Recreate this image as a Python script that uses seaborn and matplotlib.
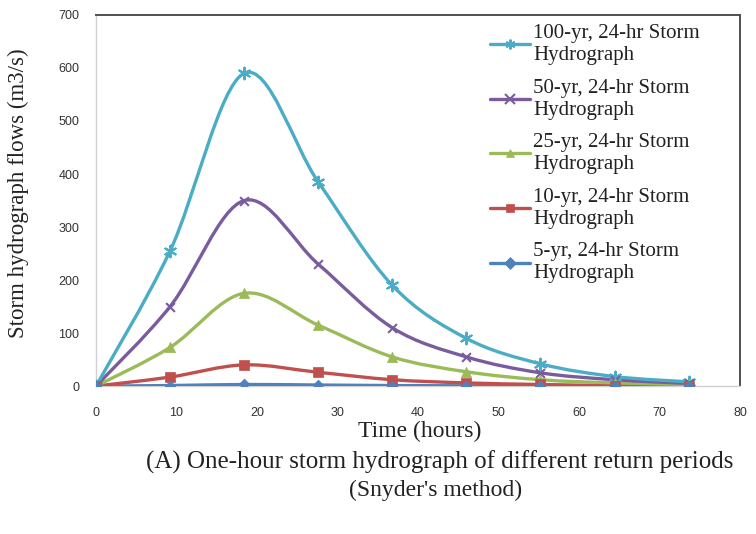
import numpy as np
import pandas as pd
import matplotlib
matplotlib.use("Agg")
import matplotlib.pyplot as plt
from matplotlib.path import Path
from matplotlib.patches import PathPatch
from matplotlib.lines import Line2D
import seaborn as sns

# ---- data ----
time_hours = [0, 9.2, 18.4, 27.6, 36.8, 46.0, 55.2, 64.4, 73.6]
flow_100yr = [0, 255, 590, 385, 190, 90, 42, 18, 8]
flow_50yr = [0, 150, 350, 230, 110, 55, 25, 12, 5]
flow_25yr = [0, 73, 175, 115, 55, 27, 12, 6, 3]
flow_10yr = [0, 17, 40, 26, 12, 6, 3, 1, 0]
flow_5yr = [0, 1, 3, 2, 1, 0.5, 0, 0, 0]
series_names = ["100-yr, 24-hr Storm\nHydrograph", "50-yr, 24-hr Storm\nHydrograph",
                "25-yr, 24-hr Storm\nHydrograph", "10-yr, 24-hr Storm\nHydrograph",
                "5-yr, 24-hr Storm\nHydrograph"]
series_values = [flow_100yr, flow_50yr, flow_25yr, flow_10yr, flow_5yr]
x_ticks = [0, 10, 20, 30, 40, 50, 60, 70, 80]
y_ticks = [0, 100, 200, 300, 400, 500, 600, 700]

colors = ["#4BACC6", "#7A5C9E", "#9BBB59", "#C0504D", "#4F81BD"]
markers = [(6, 2, 0), "x", "^", "s", "D"]
msizes = [70, 40, 55, 55, 30]

rows = []
for name, vals in zip(series_names, series_values):
    for t, v in zip(time_hours, vals):
        rows.append({"time": t, "flow": v, "series": name})
df = pd.DataFrame(rows)

sns.set_theme(style="white")
plt.rcParams["font.family"] = ["Liberation Serif", "DejaVu Serif"]

fig = plt.figure(figsize=(7.56, 5.34), dpi=100)
ax = fig.add_axes([0.127, 0.277, 0.852, 0.695])


def smooth_path(xs, ys):
    # Excel-style smoothed line (Catmull-Rom as cubic Bezier through the data points)
    xs = np.asarray(xs, float)
    ys = np.asarray(ys, float)
    n = len(xs)
    verts = [(xs[0], ys[0])]
    codes = [Path.MOVETO]
    for i in range(n - 1):
        i0 = max(i - 1, 0)
        i3 = min(i + 2, n - 1)
        c1 = (xs[i] + (xs[i + 1] - xs[i0]) / 6, ys[i] + (ys[i + 1] - ys[i0]) / 6)
        c2 = (xs[i + 1] - (xs[i3] - xs[i]) / 6, ys[i + 1] - (ys[i3] - ys[i]) / 6)
        verts += [c1, c2, (xs[i + 1], ys[i + 1])]
        codes += [Path.CURVE4] * 3
    return Path(verts, codes)


for i in range(len(series_names) - 1, -1, -1):
    name = series_names[i]
    sub = df[df["series"] == name]
    patch = PathPatch(smooth_path(sub["time"], sub["flow"]), facecolor="none",
                      edgecolor=colors[i], lw=2.4, zorder=3 + (5 - i) * 0.1)
    ax.add_patch(patch)

for i in range(len(series_names)):
    name = series_names[i]
    sub = df[df["series"] == name]
    sns.scatterplot(data=sub, x="time", y="flow", ax=ax, color=colors[i],
                    marker=markers[i], s=msizes[i], linewidth=1.5 if i < 2 else 0.5,
                    edgecolor=colors[i], zorder=4, legend=False)

ax.set_xlim(0, 80)
ax.set_ylim(0, 700)
ax.set_xticks(x_ticks)
ax.set_yticks(y_ticks)
ax.set_xticklabels([str(t) for t in x_ticks], family=["Liberation Sans", "DejaVu Sans"],
                   fontsize=9, color="#333333")
ax.set_yticklabels([str(t) for t in y_ticks], family=["Liberation Sans", "DejaVu Sans"],
                   fontsize=9, color="#333333")
ax.tick_params(axis="x", length=0, pad=15)
ax.tick_params(axis="y", length=0, pad=12)

for side in ["left", "bottom"]:
    ax.spines[side].set_color("#D0D0D0")
    ax.spines[side].set_linewidth(1.0)
for side in ["top", "right"]:
    ax.spines[side].set_color("#505050")
    ax.spines[side].set_linewidth(1.4)

ax.set_xlabel("Time (hours)", fontsize=17, color="#222222", va="center")
ax.xaxis.set_label_coords((420 - 96) / 644, -(431 - 386) / 371)
ax.set_ylabel("Storm hydrograph flows (m3/s)", fontsize=16.5, color="#222222", va="center")
ax.yaxis.set_label_coords(-(96 - 18) / 644, (386 - 193) / 371)

handles = [Line2D([0], [0], color=colors[i], lw=2.4, marker=markers[i],
                  markersize=7 if i < 2 else 6, markeredgewidth=1.5 if i < 2 else 0.5)
           for i in range(len(series_names))]
leg = ax.legend(handles, series_names, loc="upper left", bbox_to_anchor=(0.612, 0.975),
                frameon=False, fontsize=15, handlelength=1.9, handletextpad=0.15,
                labelspacing=0.66, borderaxespad=0, borderpad=0)
for t in leg.get_texts():
    t.set_color("#222222")
    t.set_linespacing(1.2)

fig.text(0.582, 1 - 462 / 534, "(A) One-hour storm hydrograph of different return periods",
         ha="center", va="center", fontsize=18, color="#222222")
fig.text(0.576, 1 - 490 / 534, "(Snyder's method)", ha="center", va="center", fontsize=17,
         color="#222222")

fig.savefig("out.png", dpi=100, facecolor="white")
